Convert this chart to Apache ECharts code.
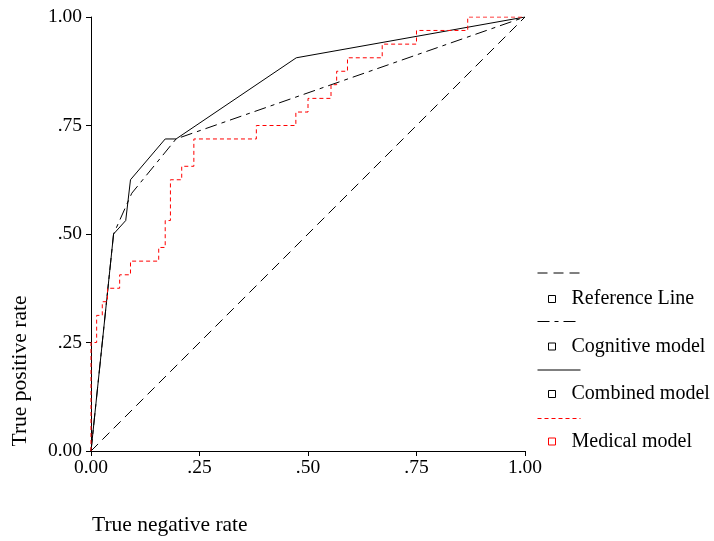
<!DOCTYPE html>
<html>
<head>
<meta charset="utf-8">
<script src="https://cdn.jsdelivr.net/npm/echarts@6/dist/echarts.min.js"></script>
<style>
  html, body { margin: 0; padding: 0; background: #fff; }
  #chart { width: 714px; height: 541px; }
</style>
</head>
<body>
<div id="chart"></div>
<script>
  // series names, legend order
  const seriesNames = ['Reference Line', 'Cognitive model', 'Combined model', 'Medical model']
  const tickLabels = ['0.00', '.25', '.50', '.75', '1.00']

  // [1 - specificity, sensitivity]
  const referenceLine = [[0, 0], [1, 1]]
  const cognitiveModel = [[0, 0], [0.052, 0.5], [0.094, 0.594], [0.196, 0.719], [1, 1]]
  const combinedModel = [[0, 0], [0.052, 0.5], [0.080, 0.531], [0.091, 0.625], [0.171, 0.719], [0.196, 0.719], [0.473, 0.906], [1, 1]]
  const medicalModel = [
    [0, 0], [0, 0.25], [0.013, 0.3125], [0.026, 0.344], [0.038, 0.375], [0.066, 0.406],
    [0.091, 0.4375], [0.156, 0.469], [0.171, 0.531], [0.183, 0.625], [0.209, 0.656],
    [0.237, 0.719], [0.381, 0.75], [0.472, 0.781], [0.50, 0.8125], [0.553, 0.844],
    [0.566, 0.875], [0.591, 0.906], [0.671, 0.9375], [0.750, 0.969], [0.868, 1.0], [1.0, 1.0]
  ]

  const FONT = "'Liberation Serif', 'DejaVu Serif', serif"
  const lineColors = ['#000', '#000', '#000', '#ff0000']
  const dashes = [[10, 6], [12, 5, 4, 5], 'solid', [4, 3]]

  const chart = echarts.init(document.getElementById('chart'), null, { renderer: 'canvas' })

  const tickFmt = (v) => tickLabels[Math.round(v * 4)]

  const axisCommon = {
    type: 'value',
    min: 0,
    max: 1,
    interval: 0.25,
    axisLine: { show: true, lineStyle: { color: '#000', width: 1 } },
    axisTick: { show: true, length: 5, lineStyle: { color: '#000', width: 1 } },
    splitLine: { show: false },
    axisLabel: { color: '#000', fontFamily: FONT, fontSize: 19.5, formatter: tickFmt }
  }

  const allData = [referenceLine, cognitiveModel, combinedModel, medicalModel]

  chart.setOption({
    animation: false,
    backgroundColor: '#fff',
    grid: { left: 91, top: 17, width: 434, height: 434 },
    xAxis: Object.assign({}, axisCommon, { axisLabel: Object.assign({}, axisCommon.axisLabel, { margin: 7 }) }),
    yAxis: Object.assign({}, axisCommon, { axisLabel: Object.assign({}, axisCommon.axisLabel, { margin: 9 }) }),
    legend: [{
      // line samples
      orient: 'vertical',
      left: 537,
      top: 269,
      padding: 0,
      itemWidth: 43,
      itemHeight: 10,
      itemGap: 40.5,
      data: seriesNames,
      formatter: () => '',
      textStyle: { fontSize: 1, lineHeight: 1 },
      lineStyle: { width: 1 },
      itemStyle: { color: 'transparent', borderColor: 'transparent', borderWidth: 0, opacity: 0 },
      selectedMode: false
    }, {
      // squares + labels
      orient: 'vertical',
      left: 548,
      top: 289,
      padding: 0,
      icon: 'rect',
      itemWidth: 7,
      itemHeight: 7,
      itemGap: 27.5,
      selectedMode: false,
      textStyle: { color: '#000', fontFamily: FONT, fontSize: 20, lineHeight: 20, padding: [0, 0, 0, 11] },
      data: seriesNames.map((n, i) => ({
        name: n,
        itemStyle: { color: '#fff', borderColor: lineColors[i], borderWidth: 1 }
      }))
    }],
    graphic: [{
      type: 'text',
      x: 20,
      y: 371,
      rotation: Math.PI / 2,
      style: { text: 'True positive rate', font: '21.5px ' + FONT, fill: '#000', align: 'center', verticalAlign: 'middle' }
    }, {
      type: 'text',
      x: 92,
      y: 525,
      style: { text: 'True negative rate', font: '21.5px ' + FONT, fill: '#000', align: 'left', verticalAlign: 'middle' }
    }],
    series: seriesNames.map((n, i) => ({
      name: n,
      type: 'line',
      data: allData[i],
      symbol: 'none',
      step: i === 3 ? 'end' : false,
      lineStyle: { color: lineColors[i], width: 1, type: dashes[i] },
      itemStyle: { color: lineColors[i] },
      z: 2 + i
    }))
  })
</script>
</body>
</html>
